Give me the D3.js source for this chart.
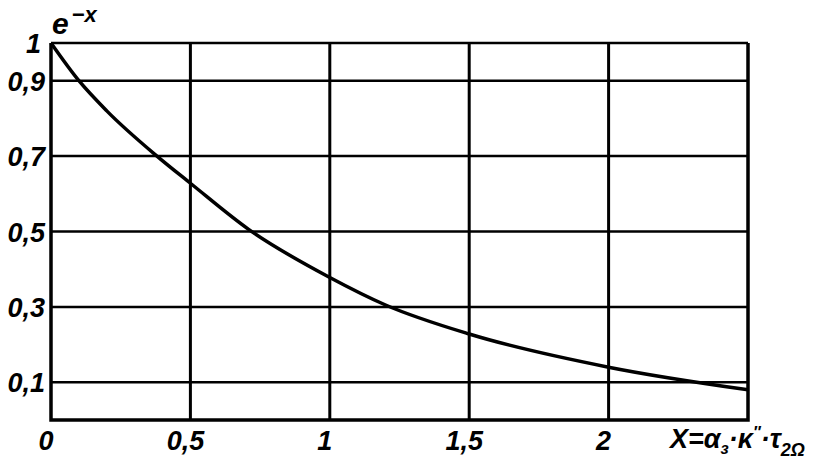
<!DOCTYPE html>
<meta charset="utf-8">
<script src="https://d3js.org/d3.v7.min.js"></script>
<style>
  body { margin: 0; background: #fff; }
  text { font-family: "Liberation Sans", sans-serif; font-style: italic; font-weight: bold; fill: #000; }
</style>
<svg id="chart" width="816" height="466"></svg>
<script>

  // values
  var curveX = [0, 0.1, 0.2, 0.38, 0.5, 0.71, 1, 1.2, 1.5, 2, 2.5];
  var curveY = [1, 0.9, 0.82, 0.7, 0.628, 0.505, 0.378, 0.305, 0.228, 0.14, 0.08];
  var yTicks = [1, 0.9, 0.7, 0.5, 0.3, 0.1];
  var yTickLabels = ["1", "0,9", "0,7", "0,5", "0,3", "0,1"];
  var xTicks = [0, 0.5, 1, 1.5, 2];
  var xTickLabels = ["0", "0,5", "1", "1,5", "2"];

  var svg = d3.select("#chart");

  var x = d3.scaleLinear().domain([0, 2.5]).range([51, 748]);
  var y = d3.scaleLinear().domain([0, 1]).range([420, 43]);

  // horizontal grid
  svg.append("g")
    .selectAll("line")
    .data([0.9, 0.7, 0.5, 0.3, 0.1, 1])
    .enter().append("line")
      .attr("x1", x(0)).attr("x2", x(2.5))
      .attr("y1", d => y(d)).attr("y2", d => y(d))
      .attr("stroke", "#000").attr("stroke-width", 2.5);

  // vertical grid
  svg.append("g")
    .selectAll("line")
    .data([0.5, 1, 1.5, 2])
    .enter().append("line")
      .attr("x1", d => x(d)).attr("x2", d => x(d))
      .attr("y1", y(1)).attr("y2", y(0))
      .attr("stroke", "#000").attr("stroke-width", 3);

  // frame: left, bottom, right
  svg.append("path")
    .attr("d", "M" + x(0) + "," + y(1) + "V" + y(0) + "H" + x(2.5) + "V" + y(1))
    .attr("fill", "none").attr("stroke", "#000").attr("stroke-width", 3.5);

  // the curve
  var pts = curveX.map((v, i) => [v, curveY[i]]);
  svg.append("path")
    .datum(pts)
    .attr("fill", "none")
    .attr("stroke", "#000")
    .attr("stroke-width", 3.5)
    .attr("d", d3.line().x(d => x(d[0])).y(d => y(d[1])).curve(d3.curveMonotoneX));

  // y tick labels
  svg.append("g")
    .selectAll("text")
    .data(yTicks)
    .enter().append("text")
      .attr("x", d => d === 1 ? 41 : 45)
      .attr("y", d => y(d) + 10)
      .attr("text-anchor", "end")
      .attr("font-size", 27)
      .text((d, i) => yTickLabels[i]);

  // x tick labels
  svg.append("g")
    .selectAll("text")
    .data(xTicks)
    .enter().append("text")
      .attr("x", d => x(d) - 5)
      .attr("y", 450)
      .attr("text-anchor", "middle")
      .attr("font-size", 27)
      .text((d, i) => xTickLabels[i]);

  // y title  e^-x
  var yt = svg.append("text").attr("x", 52).attr("y", 34).attr("font-size", 30);
  yt.append("tspan").text("e");
  yt.append("tspan").attr("dx", 3).attr("dy", -12).attr("font-size", 22).text("−x");

  // x title
  var xt = svg.append("text").attr("x", 670).attr("y", 448).attr("font-size", 27);
  xt.append("tspan").text("X=α");
  xt.append("tspan").attr("dy", 6).attr("font-size", 16).text("з");
  xt.append("tspan").attr("dy", -6).text("·κ");
  xt.append("tspan").attr("dy", -10).attr("font-size", 16).text("″");
  xt.append("tspan").attr("dy", 10).text("·τ");
  xt.append("tspan").attr("dy", 8).attr("font-size", 18).text("2Ω");

</script>
